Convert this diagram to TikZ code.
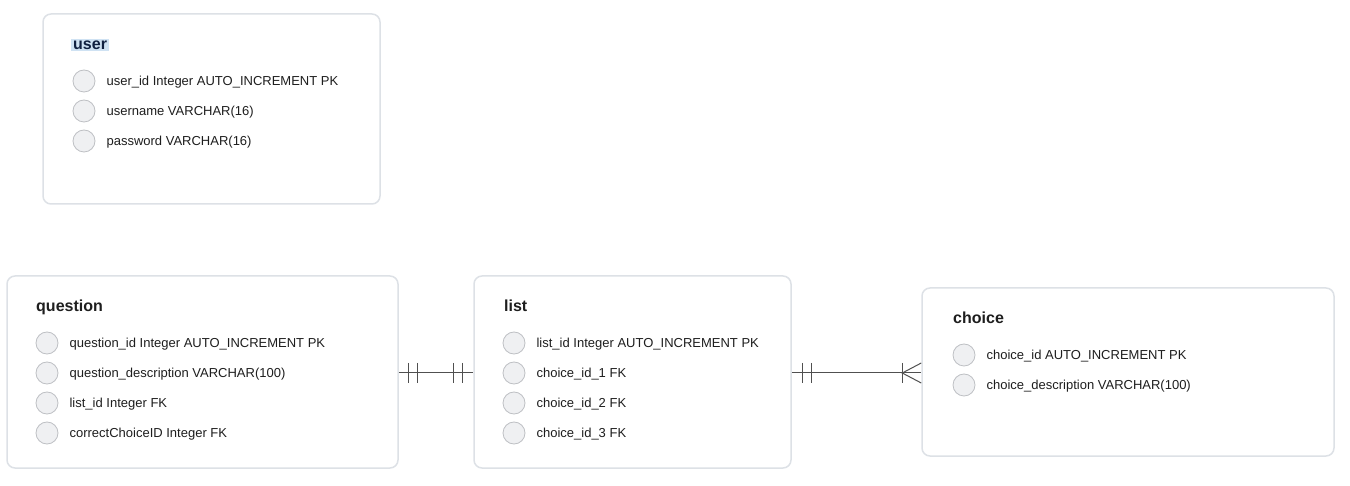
\documentclass[tikz,border=0pt]{standalone}
\usepackage{fontspec}
\setmainfont{Liberation Sans}
\usetikzlibrary{positioning,calc}

\definecolor{boxline}{RGB}{221,225,230}
\definecolor{dotfill}{RGB}{239,240,242}
\definecolor{dotline}{RGB}{190,192,196}
\definecolor{relline}{RGB}{80,80,80}
\definecolor{fieldtext}{RGB}{30,30,30}
\definecolor{markfill}{RGB}{207,226,243}
\definecolor{navytext}{RGB}{16,32,64}

\tikzset{
    entity/.style={draw=boxline, line width=1.5pt, rounded corners=8pt, fill=white},
    entityname/.style={anchor=base west, font=\bfseries\fontsize{16}{19}\selectfont, inner sep=0pt, text=fieldtext},
    attrdot/.style={circle, draw=dotline, fill=dotfill, line width=0.8pt, minimum size=22pt, inner sep=0pt},
    field/.style={right=11pt of #1, inner xsep=0pt, inner ysep=0pt, text height=9.3pt, text depth=0pt, font=\fontsize{13}{15}\selectfont, text=fieldtext},
    rel/.style={draw=relline, line width=1pt}
}

\begin{document}
\begin{tikzpicture}[x=1pt, y=-1pt]
    \useasboundingbox (0,0) rectangle (1350,486);

    % user table
    \node[entity, minimum width=337pt, minimum height=190pt] (user) at (211.5,109) {};
    \node[entityname, fill=markfill, inner xsep=2pt, text height=11pt, text depth=1pt, text=navytext] (usertitle) at (71,50) {user};
    \node[attrdot] (u1) at (84,81) {};
    \node[field=u1] (u1t) {user\_id Integer AUTO\_INCREMENT PK};
    \node[attrdot] (u2) at (84,111) {};
    \node[field=u2] (u2t) {username VARCHAR(16)};
    \node[attrdot] (u3) at (84,141) {};
    \node[field=u3] (u3t) {password VARCHAR(16)};

    % question table
    \node[entity, minimum width=391pt, minimum height=192pt] (question) at (202.5,372) {};
    \node[entityname] (questiontitle) at (36,312) {question};
    \node[attrdot] (q1) at (47,343) {};
    \node[field=q1] (q1t) {question\_id Integer AUTO\_INCREMENT PK};
    \node[attrdot] (q2) at (47,373) {};
    \node[field=q2] (q2t) {question\_description VARCHAR(100)};
    \node[attrdot] (q3) at (47,403) {};
    \node[field=q3] (q3t) {list\_id Integer FK};
    \node[attrdot] (q4) at (47,433) {};
    \node[field=q4] (q4t) {correctChoiceID Integer FK};

    % list table
    \node[entity, minimum width=317pt, minimum height=192pt] (list) at (632.5,372) {};
    \node[entityname] (listtitle) at (504,312) {list};
    \node[attrdot] (l1) at (514,343) {};
    \node[field=l1] (l1t) {list\_id Integer AUTO\_INCREMENT PK};
    \node[attrdot] (l2) at (514,373) {};
    \node[field=l2] (l2t) {choice\_id\_1 FK};
    \node[attrdot] (l3) at (514,403) {};
    \node[field=l3] (l3t) {choice\_id\_2 FK};
    \node[attrdot] (l4) at (514,433) {};
    \node[field=l4] (l4t) {choice\_id\_3 FK};

    % choice table
    \node[entity, minimum width=412pt, minimum height=168pt] (choice) at (1128,372) {};
    \node[entityname] (choicetitle) at (953,324) {choice};
    \node[attrdot] (c1) at (964,355) {};
    \node[field=c1] (c1t) {choice\_id AUTO\_INCREMENT PK};
    \node[attrdot] (c2) at (964,385) {};
    \node[field=c2] (c2t) {choice\_description VARCHAR(100)};

    % relations
    \coordinate (qlA) at (question.east |- q2);
    \coordinate (qlB) at (list.west |- l2);
    \draw[rel] (qlA) -- (qlB);
    \draw[rel] ([xshift=10pt]qlA) ++(0,-10) -- ++(0,20);
    \draw[rel] ([xshift=19pt]qlA) ++(0,-10) -- ++(0,20);
    \draw[rel] ([xshift=-11pt]qlB) ++(0,-10) -- ++(0,20);
    \draw[rel] ([xshift=-20pt]qlB) ++(0,-10) -- ++(0,20);

    \coordinate (lcA) at (list.east |- l2);
    \coordinate (lcB) at (choice.west |- l2);
    \draw[rel] (lcA) -- (lcB);
    \draw[rel] ([xshift=11pt]lcA) ++(0,-10) -- ++(0,20);
    \draw[rel] ([xshift=20pt]lcA) ++(0,-10) -- ++(0,20);
    \draw[rel] ([xshift=-19pt]lcB) ++(0,-10) -- ++(0,20);
    \draw[rel] ([yshift=-10pt]lcB) -- ([xshift=-19pt]lcB) -- ([yshift=10pt]lcB);
\end{tikzpicture}
\end{document}
